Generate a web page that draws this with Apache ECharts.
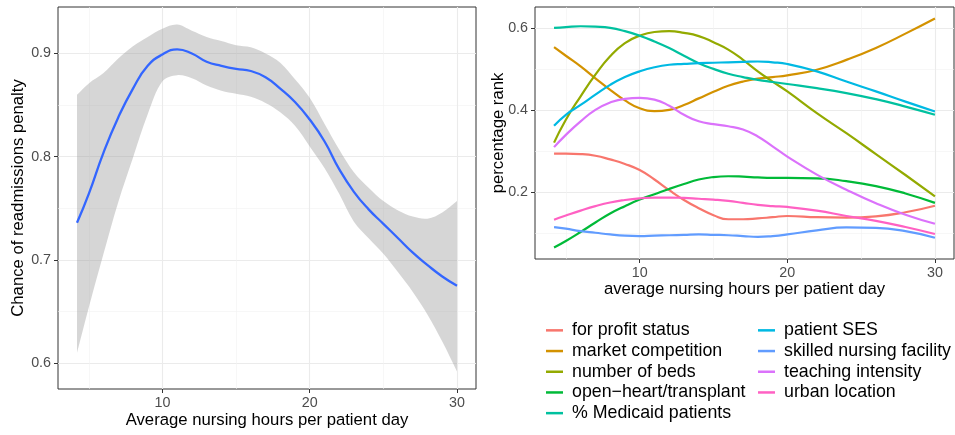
<!DOCTYPE html>
<html>
<head>
<meta charset="utf-8">
<script src="https://cdn.jsdelivr.net/npm/echarts@6/dist/echarts.min.js"></script>
<style>
  html, body { margin: 0; padding: 0; background: #fff; }
  #chart { width: 955px; height: 435px; }
</style>
</head>
<body>
<div id="chart"></div>
<script>
// left panel: smoothed chance of penalty with confidence band
const leftX = [4.2, 5, 6, 7, 8, 9, 10, 11, 12, 13, 14, 15, 16, 17, 18, 19, 20, 21, 22, 23, 24, 25, 26, 27, 28, 29, 30];
const penalty = [0.736, 0.764, 0.804, 0.838, 0.866, 0.888, 0.899, 0.904, 0.900, 0.892, 0.888, 0.885, 0.883, 0.877, 0.866, 0.853, 0.836, 0.815, 0.788, 0.766, 0.749, 0.735, 0.721, 0.707, 0.695, 0.684, 0.675];
const penaltyLow = [0.610, 0.654, 0.706, 0.756, 0.799, 0.841, 0.873, 0.879, 0.876, 0.869, 0.864, 0.861, 0.858, 0.852, 0.843, 0.830, 0.810, 0.789, 0.764, 0.737, 0.721, 0.706, 0.688, 0.669, 0.647, 0.621, 0.592];
const penaltyHigh = [0.860, 0.871, 0.881, 0.895, 0.907, 0.916, 0.924, 0.928, 0.922, 0.916, 0.912, 0.908, 0.906, 0.900, 0.891, 0.875, 0.857, 0.832, 0.807, 0.785, 0.770, 0.757, 0.748, 0.742, 0.740, 0.746, 0.757];

// right panel: percentage rank of hospital characteristics
const rightX = [4.2, 5, 6, 7, 8, 9, 10, 11, 12, 13, 14, 15, 16, 17, 18, 19, 20, 22, 24, 26, 28, 30];
const forProfit = [0.293, 0.293, 0.292, 0.288, 0.279, 0.268, 0.253, 0.230, 0.204, 0.180, 0.160, 0.143, 0.133, 0.133, 0.135, 0.138, 0.141, 0.138, 0.137, 0.140, 0.150, 0.166];
const marketComp = [0.553, 0.532, 0.506, 0.477, 0.449, 0.423, 0.404, 0.397, 0.400, 0.412, 0.428, 0.444, 0.459, 0.469, 0.476, 0.480, 0.484, 0.498, 0.522, 0.551, 0.586, 0.623];
const numBeds = [0.320, 0.376, 0.433, 0.486, 0.531, 0.563, 0.581, 0.590, 0.592, 0.588, 0.580, 0.565, 0.547, 0.522, 0.494, 0.469, 0.445, 0.392, 0.343, 0.292, 0.241, 0.189];
const openHeart = [0.064, 0.080, 0.102, 0.125, 0.147, 0.165, 0.181, 0.194, 0.207, 0.219, 0.230, 0.236, 0.238, 0.237, 0.235, 0.234, 0.234, 0.233, 0.226, 0.214, 0.196, 0.173];
const medicaid = [0.600, 0.602, 0.604, 0.603, 0.600, 0.592, 0.581, 0.567, 0.551, 0.532, 0.514, 0.500, 0.488, 0.480, 0.473, 0.468, 0.463, 0.453, 0.441, 0.426, 0.408, 0.388];
const patientSES = [0.361, 0.388, 0.412, 0.437, 0.461, 0.480, 0.494, 0.504, 0.510, 0.512, 0.514, 0.515, 0.516, 0.517, 0.518, 0.516, 0.512, 0.494, 0.469, 0.445, 0.420, 0.396];
const skilledNursing = [0.114, 0.110, 0.104, 0.100, 0.096, 0.093, 0.092, 0.093, 0.094, 0.095, 0.096, 0.095, 0.094, 0.092, 0.090, 0.092, 0.096, 0.106, 0.113, 0.112, 0.104, 0.088];
const teaching = [0.309, 0.339, 0.372, 0.400, 0.418, 0.427, 0.429, 0.425, 0.410, 0.388, 0.372, 0.365, 0.360, 0.352, 0.335, 0.311, 0.286, 0.242, 0.205, 0.172, 0.144, 0.122];
const urban = [0.132, 0.142, 0.154, 0.165, 0.174, 0.180, 0.184, 0.186, 0.186, 0.185, 0.183, 0.181, 0.178, 0.173, 0.168, 0.165, 0.163, 0.154, 0.141, 0.129, 0.114, 0.097];

const groupNames = ['for profit status', 'market competition', 'number of beds', 'open\u2212heart/transplant', '% Medicaid patients',
  'patient SES', 'skilled nursing facility', 'teaching intensity', 'urban location'];
const groupValues = [forProfit, marketComp, numBeds, openHeart, medicaid, patientSES, skilledNursing, teaching, urban];
const groupColors = ['#F8766D', '#D39200', '#93AA00', '#00BA38', '#00C19F', '#00B9E3', '#619CFF', '#DB72FB', '#FF61C3'];

const xTicks = [10, 20, 30];
const xMinor = [5, 15, 25];
const leftYTicks = [0.6, 0.7, 0.8, 0.9];
const leftYMinor = [0.65, 0.75, 0.85];
const rightYTicks = [0.2, 0.4, 0.6];
const rightYMinor = [0.1, 0.3, 0.5];

const FONT = "'Liberation Sans', Arial, sans-serif";

function zip(xs, ys) {
  return xs.map((x, i) => [x, ys[i]]);
}

// one visible axis with ticks/labels/major grid, plus a bare one for minor grid
function majorAxis(gridIndex, min, max, ticks, opts) {
  return Object.assign({
    type: 'value', gridIndex, min, max,
    axisLine: { show: false },
    axisTick: { show: true, length: 4, customValues: ticks, lineStyle: { color: '#333333' } },
    axisLabel: { customValues: ticks, color: '#4D4D4D', fontSize: 14.3, fontFamily: FONT, margin: 7 },
    splitLine: { show: true, lineStyle: { color: '#EBEBEB', width: 1.1 } },
    nameLocation: 'middle',
    nameMoveOverlap: false,
    nameTextStyle: { color: '#000', fontSize: 16.7, fontFamily: FONT }
  }, opts);
}
function minorAxis(gridIndex, min, max, ticks) {
  return {
    type: 'value', gridIndex, min, max,
    axisLine: { show: false },
    axisTick: { show: false, customValues: ticks },
    axisLabel: { show: false, customValues: ticks },
    splitLine: { show: true, lineStyle: { color: '#F1F1F1', width: 0.6 } }
  };
}

const xLo = 2.91, xHi = 31.29;

// confidence band: polygon through upper edge then lower edge, in axis coords
function renderBand(params, api) {
  const top = leftX.map((x, i) => api.coord([x, penaltyHigh[i]]));
  const bottom = leftX.map((x, i) => api.coord([x, penaltyLow[i]])).reverse();
  // doubled corner points keep the smoothing from bulging at the ends
  const pts = [top[0]].concat(top, [top[top.length - 1]], [bottom[0]], bottom, [bottom[bottom.length - 1]]);
  return {
    type: 'polygon',
    shape: { points: pts, smooth: 0.35 },
    style: { fill: 'rgba(153,153,153,0.4)', stroke: null }
  };
}

const series = [
  {
    name: 'band', type: 'custom', xAxisIndex: 0, yAxisIndex: 0,
    renderItem: renderBand, data: [[leftX[0], penaltyLow[0]]],
    silent: true, z: 2
  },
  {
    name: 'fit', type: 'line', xAxisIndex: 0, yAxisIndex: 0,
    data: zip(leftX, penalty), smooth: true, showSymbol: false,
    lineStyle: { color: '#3366FF', width: 2.3 }, z: 3
  }
];
groupNames.forEach((name, i) => {
  series.push({
    name, type: 'line', xAxisIndex: 2, yAxisIndex: 2,
    data: zip(rightX, groupValues[i]), smooth: true, showSymbol: false,
    color: groupColors[i],
    lineStyle: { color: groupColors[i], width: 2.2 }, z: 3
  });
});

const legendBase = {
  orient: 'vertical', icon: 'rect', itemWidth: 17, itemHeight: 2.5,
  itemGap: 0, top: 315,
  textStyle: { color: '#000', fontSize: 17.8, fontFamily: FONT, lineHeight: 20.7, padding: [0, 0, 0, 4] },
  selectedMode: false
};

const option = {
  animation: false,
  grid: [
    { left: 58, top: 7, width: 418, height: 382, show: true, borderColor: '#333333', borderWidth: 1, backgroundColor: 'transparent' },
    { left: 535, top: 7, width: 419, height: 252, show: true, borderColor: '#333333', borderWidth: 1, backgroundColor: 'transparent' }
  ],
  xAxis: [
    majorAxis(0, xLo, xHi, xTicks, { name: 'Average nursing hours per patient day', nameGap: 22.5 }),
    minorAxis(0, xLo, xHi, xMinor),
    majorAxis(1, xLo, xHi, xTicks, { name: 'average nursing hours per patient day', nameGap: 21.5 }),
    minorAxis(1, xLo, xHi, xMinor)
  ],
  yAxis: [
    majorAxis(0, 0.575, 0.945, leftYTicks, { name: 'Chance of readmissions penalty', nameGap: 31.5 }),
    minorAxis(0, 0.575, 0.945, leftYMinor),
    majorAxis(1, 0.036, 0.651, rightYTicks, { name: 'percentage rank', nameGap: 28.5 }),
    minorAxis(1, 0.036, 0.651, rightYMinor)
  ],
  legend: [
    Object.assign({}, legendBase, { left: 541, data: groupNames.slice(0, 5) }),
    Object.assign({}, legendBase, { left: 753, data: groupNames.slice(5) })
  ],
  series
};

const chart = echarts.init(document.getElementById('chart'), null, { renderer: 'canvas' });
chart.setOption(option);
</script>
</body>
</html>
